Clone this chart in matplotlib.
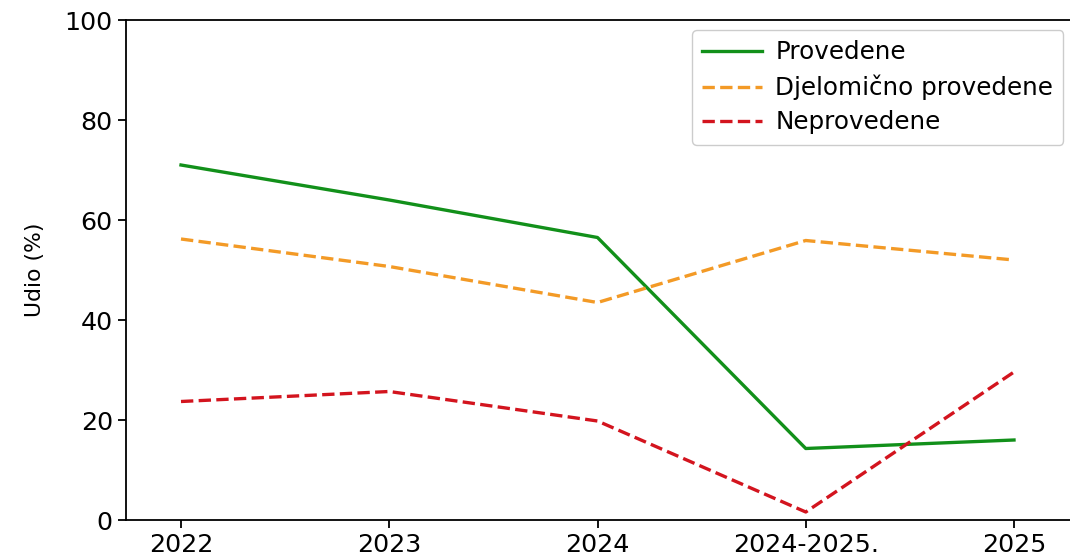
import matplotlib
matplotlib.use("Agg")
import matplotlib.pyplot as plt

# Period labels and shares (%) of recommendations by implementation status
periods = ["2022", "2023", "2024", "2024-2025.", "2025"]
provedene = [71.0, 64.0, 56.5, 14.3, 16.0]
djelomicno = [56.2, 50.7, 43.5, 55.9, 52.0]
neprovedene = [23.7, 25.7, 19.8, 1.6, 29.6]

plt.rcParams["font.family"] = ["DejaVu Sans"]
fs = 18.3

fig = plt.figure(figsize=(10.7, 5.6), dpi=100)
ax = fig.add_axes([126 / 1070, 40 / 560, (1072 - 126) / 1070, 500 / 560])

x = list(range(len(periods)))
ax.plot(x, provedene, color="#12901a", lw=2.4, label="Provedene")
ax.plot(x, djelomicno, color="#f39a26", lw=2.4, ls="--", label="Djelomično provedene")
ax.plot(x, neprovedene, color="#d3141e", lw=2.4, ls="--", label="Neprovedene")

ax.set_ylim(0, 100)
ax.set_xlim(-55 / 208.25, (1072 - 181) / 208.25)
ax.set_xticks(x)
ax.set_xticklabels(periods)
ax.set_yticks([0, 20, 40, 60, 80, 100])
ax.tick_params(labelsize=fs, length=6, width=1.3)
ax.set_ylabel("Udio (%)", fontsize=fs * 0.86, labelpad=14)
for s in ax.spines.values():
    s.set_linewidth(1.3)

ax.legend(loc="upper right", bbox_to_anchor=(0.991, 0.98), borderaxespad=0,
          fontsize=17.7, handlelength=2.45, borderpad=0.42, labelspacing=0.42,
          handletextpad=0.53, framealpha=1.0)

fig.savefig("out.png", dpi=100)
